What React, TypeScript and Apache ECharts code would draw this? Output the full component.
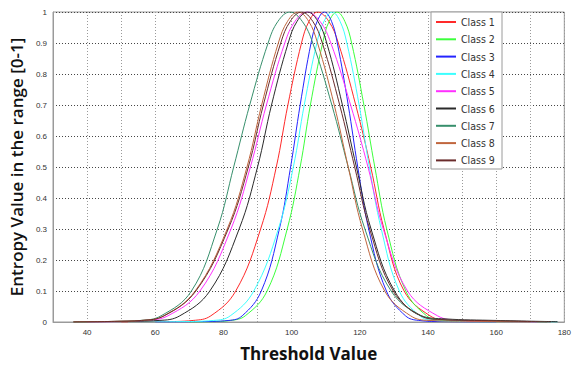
import React, { useEffect, useRef } from "react";
import * as echarts from "echarts";

const classNames = ["Class 1", "Class 2", "Class 3", "Class 4", "Class 5", "Class 6", "Class 7", "Class 8", "Class 9"];
const classColors = ["#ff2a2a", "#3cff3c", "#2424ff", "#3cffff", "#ff30ff", "#2a2a2a", "#378f6c", "#c0663e", "#6a2c2c"];

const class1 = [[50,0],[62,0.001],[71.1,0.005],[76.3,0.02],[83.6,0.1],[90.9,0.3],[95.5,0.5],[98.9,0.7],[102.9,0.9],[105.1,0.97],[107.6,1],[110.9,0.97],[113.7,0.9],[118.8,0.7],[123.2,0.5],[127.1,0.3],[133,0.1],[140.6,0.02],[146,0.005],[160,0.001],[175,0]];
const class2 = [[70,0],[76,0.001],[82.1,0.005],[86.4,0.02],[92.8,0.1],[98.7,0.3],[102.5,0.5],[105.5,0.7],[109.1,0.9],[111,0.97],[113.3,1],[115.6,0.97],[117.6,0.9],[121.2,0.7],[124.4,0.5],[127.9,0.3],[133.5,0.1],[139.6,0.02],[143.9,0.005],[155,0.001],[170,0]];
const class3 = [[60,0],[72,0.001],[81.6,0.005],[85.5,0.02],[91.1,0.1],[96.4,0.3],[99.7,0.5],[102.5,0.7],[105.7,0.9],[107.5,0.97],[109.6,1],[111.7,0.97],[113.4,0.9],[116.6,0.7],[119.4,0.5],[122.6,0.3],[127.8,0.1],[133.4,0.02],[137.3,0.005],[145,0.001],[160,0]];
const class4 = [[52,0],[66,0.001],[77.1,0.005],[82,0.02],[88.9,0.1],[96.1,0.3],[100.5,0.5],[103.7,0.7],[107.4,0.9],[109.5,0.97],[111.9,1],[114.2,0.97],[116.2,0.9],[119.8,0.7],[122.8,0.5],[126.3,0.3],[131.6,0.1],[137.6,0.02],[141.8,0.005],[155,0.001],[178,0]];
const class5 = [[40,0],[48,0.001],[57,0.005],[63.7,0.02],[73.1,0.1],[82.2,0.3],[87.9,0.5],[92.6,0.7],[98,0.9],[101,0.97],[104.5,1],[108.3,0.97],[111.5,0.9],[117.3,0.7],[122.4,0.5],[126.9,0.3],[134,0.1],[142.8,0.02],[149.1,0.005],[160,0.001],[172,0]];
const class6 = [[36,0],[50,0.002],[61.1,0.005],[67.2,0.02],[76,0.1],[84.6,0.3],[90,0.5],[94.1,0.7],[99,0.9],[101.6,0.97],[104.7,1],[107.7,0.97],[110.3,0.9],[114.9,0.7],[119,0.5],[123.3,0.3],[130.2,0.1],[138,0.02],[145,0.01],[160,0.005],[178,0.001]];
const class7 = [[36,0],[48,0.002],[55.6,0.005],[61.7,0.02],[70.6,0.1],[78.2,0.3],[83,0.5],[87.7,0.7],[93.1,0.9],[96,0.97],[99.5,1],[103.1,0.97],[106.2,0.9],[111.8,0.7],[116.6,0.5],[121.5,0.3],[129.2,0.1],[138.1,0.02],[144.4,0.008],[160,0.003],[175,0]];
const class8 = [[36,0],[48,0.002],[56,0.005],[62.5,0.02],[71.7,0.1],[81.1,0.3],[86.9,0.5],[91.2,0.7],[96.1,0.9],[98.8,0.97],[101.9,1],[105,0.97],[107.6,0.9],[112.5,0.7],[116.6,0.5],[120.8,0.3],[127.3,0.1],[134.9,0.02],[140.3,0.005],[155,0.002],[170,0]];
const class9 = [[36,0],[48,0.002],[56,0.005],[62.6,0.02],[71.9,0.1],[81.4,0.3],[87.3,0.5],[91.7,0.7],[96.8,0.9],[99.6,0.97],[102.9,1],[106.2,0.97],[109,0.9],[114.1,0.7],[118.5,0.5],[122.9,0.3],[129.8,0.1],[137.9,0.02],[143.6,0.008],[160,0.004],[176,0]];

const classData = [class1, class2, class3, class4, class5, class6, class7, class8, class9];

const xMin = 30;
const xMax = 180;
const xStep = 10;
const xLabelStep = 20;
const yMin = 0;
const yMax = 1;
const yStep = 0.1;

export default function App() {
  const ref = useRef<HTMLDivElement>(null);
  useEffect(() => {
    if (!ref.current) return;
    const chart = echarts.init(ref.current, null, { renderer: "svg" });
    const showX = (_i: number, v: any) => Number(v) % xLabelStep === 0 && Number(v) !== xMin;
    const splitX = (_i: number, v: any) => Number(v) % xLabelStep === 0 && Number(v) !== xMin && Number(v) !== xMax;
    chart.setOption({
      animation: false,
      backgroundColor: "#ffffff",
      grid: { left: 48, right: 4, top: 12, bottom: 44, show: true, borderColor: "#9a9a9a", borderWidth: 1, backgroundColor: "transparent" },
      xAxis: {
        type: "value",
        min: xMin,
        max: xMax,
        interval: xStep,
        name: "Threshold Value",
        nameLocation: "middle",
        nameGap: 23,
        nameTextStyle: { fontFamily: "Open Sans", fontSize: 17, fontWeight: "bold", color: "#111" },
        axisLine: { show: true, lineStyle: { color: "#9a9a9a", width: 1 } },
        axisTick: { show: false },
        axisLabel: {
          interval: showX,
          formatter: (v: number) => (v % xLabelStep === 0 && v !== xMin ? String(v) : ""),
          fontFamily: "Liberation Sans",
          fontSize: 8,
          color: "#333",
          margin: 6,
        },
        splitLine: { show: true, interval: splitX, lineStyle: { type: [1, 2], color: "#9a9a9a", width: 1 } },
      },
      yAxis: {
        type: "value",
        min: yMin,
        max: yMax,
        interval: yStep,
        name: "Entropy Value in the range [0-1]",
        nameLocation: "middle",
        nameGap: 21,
        nameTextStyle: { fontFamily: "Open Sans", fontSize: 17, fontWeight: 600, color: "#111" },
        axisLine: { show: true, lineStyle: { color: "#9a9a9a", width: 1 } },
        axisTick: { show: false },
        axisLabel: { fontFamily: "Liberation Sans", fontSize: 8, color: "#333", margin: 6 },
        splitLine: { show: true, lineStyle: { type: [1, 2], color: "#444", width: 1 } },
      },
      legend: {
        show: true,
        orient: "vertical",
        left: 432,
        top: 14,
        padding: [2, 4],
        itemWidth: 20,
        itemHeight: 2,
        itemGap: 5.3,
        icon: "rect",
        z: 12,
        textStyle: { fontFamily: "DejaVu Sans Condensed", fontSize: 10.5, color: "#333", lineHeight: 12 },
        data: classNames,
      },
      graphic: [
        {
          type: "rect",
          z: 11,
          shape: { x: 431, y: 12, width: 71, height: 157 },
          style: { fill: "#ffffff", stroke: "#9a9a9a", lineWidth: 1 },
        },
      ],
      series: classNames.map((name, i) => ({
        name,
        type: "line",
        data: classData[i],
        smooth: 0.4,
        showSymbol: false,
        symbol: "none",
        lineStyle: { color: classColors[i], width: 1 },
        itemStyle: { color: classColors[i] },
        z: 2,
      })),
    });
    return () => chart.dispose();
  }, []);
  return <div ref={ref} style={{ position: "fixed", left: 0, top: 0, width: 574, height: 367 }} />;
}
